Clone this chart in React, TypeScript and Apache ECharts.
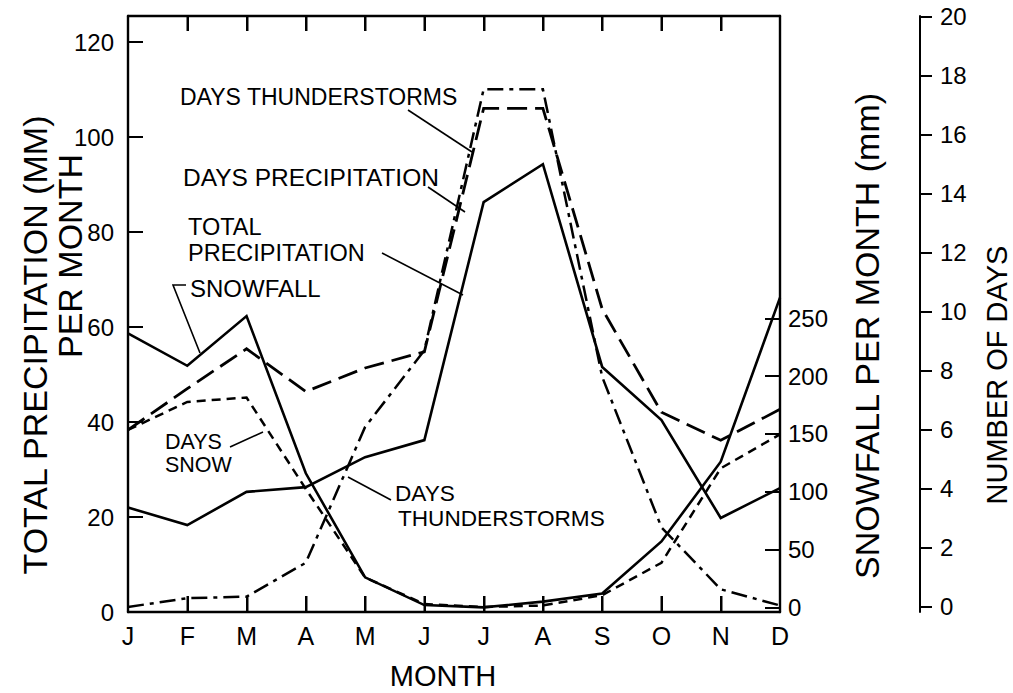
import React, { useEffect, useRef } from "react";
import * as echarts from "echarts";

// ---- data ----
const months = ["Jan", "Feb", "Mar", "Apr", "May", "Jun", "Jul", "Aug", "Sep", "Oct", "Nov", "Dec"];
const totalPrecipitation = [22, 18.3, 25.3, 26.3, 32.6, 36.2, 86.3, 94.3, 51.6, 40.4, 19.8, 26.1]; // mm, left axis
const snowfall = [237, 209, 252, 116, 26, 2, 0, 5, 12, 57, 126, 268]; // mm, inner right axis
const daysPrecipitation = [6.0, 7.4, 8.75, 7.3, 8.1, 8.65, 16.9, 16.9, 10.1, 6.6, 5.65, 6.7]; // days
const daysSnow = [6.0, 6.95, 7.1, 4.0, 1.0, 0.1, 0, 0.05, 0.4, 1.5, 4.7, 5.85]; // days
const daysThunderstorms = [0, 0.3, 0.35, 1.5, 6.1, 8.7, 17.55, 17.55, 7.8, 2.7, 0.6, 0.05]; // days

const precipTicks = [0, 20, 40, 60, 80, 100, 120];
const snowTicks = [0, 50, 100, 150, 200, 250];
const dayTicks = [0, 2, 4, 6, 8, 10, 12, 14, 16, 18, 20];

const FONT = '"Liberation Sans", "DejaVu Sans", Arial, sans-serif';
const INK = "#000";
const W = 1013;
const H = 693;
const GRID = { left: 128, right: 233, top: 16, bottom: 81 };

function txt(text: string, x: number, y: number, size: number, rotate = false, align = "left") {
  return {
    type: "text",
    x,
    y,
    rotation: rotate ? Math.PI / 2 : 0,
    silent: true,
    style: {
      text,
      fontSize: size,
      fontFamily: FONT,
      fill: INK,
      align,
      verticalAlign: "middle",
    },
  };
}

function seg(x1: number, y1: number, x2: number, y2: number, w = 1.6) {
  return {
    type: "line",
    silent: true,
    z: 50,
    shape: { x1, y1, x2, y2 },
    style: { stroke: INK, lineWidth: w },
  };
}

const axisLineStyle = () => ({ color: INK, width: 2.4 });
const tickStyle = () => ({ color: INK, width: 2 });
const labelBase = () => ({ color: INK, fontFamily: FONT, fontSize: 24 });

export default function App() {
  const ref = useRef<HTMLDivElement>(null);

  useEffect(() => {
    if (!ref.current) return;
    const chart = echarts.init(ref.current, undefined, { renderer: "svg" });

    const lineSeries = (name: string, data: number[], yAxisIndex: number, type: any, width = 2.5) => ({
      name,
      type: "line",
      data,
      yAxisIndex,
      xAxisIndex: 0,
      symbol: "none",
      clip: false,
      lineStyle: { color: INK, width, type, cap: "butt", join: "miter" },
      emphasis: { disabled: true },
    });

    // month tick marks along the bottom and top frame (one per category step of the grid)
    const plotW = W - GRID.left - GRID.right;
    const yBottom = H - GRID.bottom;
    const yTop = GRID.top;
    const step = plotW / (months.length - 1);
    const monthTicks: any[] = [];
    for (let i = 1; i < months.length - 1; i++) {
      const x = Math.round(GRID.left + i * step) + 0.5;
      monthTicks.push(seg(x, yBottom, x, yBottom - 16, 2));
      monthTicks.push(seg(x, yTop, x, yTop + 15, 2));
    }

    chart.setOption({
      animation: false,
      grid: { ...GRID },
      xAxis: [
        {
          type: "category",
          data: months,
          boundaryGap: false,
          position: "bottom",
          axisLine: { show: true, onZero: false, lineStyle: axisLineStyle() },
          axisTick: { show: true, inside: true, length: 16, interval: 0, lineStyle: tickStyle() },
          axisLabel: {
            ...labelBase(),
            fontSize: 25,
            margin: 11,
            interval: 0,
            formatter: (v: string) => v.charAt(0),
          },
          splitLine: { show: false },
        },
        {
          type: "category",
          data: months,
          boundaryGap: false,
          position: "top",
          axisLine: { show: true, onZero: false, lineStyle: axisLineStyle() },
          axisTick: { show: true, inside: true, length: 15, interval: 0, lineStyle: tickStyle() },
          axisLabel: { show: false },
          splitLine: { show: false },
        },
      ],
      yAxis: [
        {
          type: "value",
          position: "left",
          min: 0,
          max: 125.5,
          axisLine: { show: true, onZero: false, lineStyle: axisLineStyle() },
          axisTick: { show: true, inside: true, length: 15, lineStyle: tickStyle(), customValues: precipTicks },
          axisLabel: { ...labelBase(), margin: 14, customValues: precipTicks },
          splitLine: { show: false },
        },
        {
          type: "value",
          position: "right",
          offset: 0,
          min: -4,
          max: 511.6,
          axisLine: { show: true, onZero: false, lineStyle: axisLineStyle() },
          axisTick: { show: true, inside: true, length: 15, lineStyle: tickStyle(), customValues: snowTicks },
          axisLabel: { ...labelBase(), margin: 8, customValues: snowTicks },
          splitLine: { show: false },
        },
        {
          type: "value",
          position: "right",
          offset: 140,
          min: -0.17,
          max: 20.03,
          axisLine: { show: true, onZero: false, lineStyle: { color: INK, width: 2 } },
          axisTick: { show: true, inside: false, length: 12, lineStyle: tickStyle(), customValues: dayTicks },
          axisLabel: { ...labelBase(), margin: 20, customValues: dayTicks },
          splitLine: { show: false },
        },
      ],
      series: [
        lineSeries("Total precipitation", totalPrecipitation, 0, "solid", 2.6),
        lineSeries("Snowfall", snowfall, 1, "solid", 2.6),
        lineSeries("Days precipitation", daysPrecipitation, 2, [20, 8], 2.8),
        lineSeries("Days snow", daysSnow, 2, [9, 6], 2.5),
        lineSeries("Days thunderstorms", daysThunderstorms, 2, [16, 6, 4, 6], 2.5),
      ],
      graphic: [
        // axis titles
        txt("TOTAL PRECIPITATION (MM)", 35, 345, 34, true, "center"),
        txt("PER MONTH", 70, 256, 34, true, "center"),
        txt("SNOWFALL PER MONTH (mm)", 867, 336, 34, true, "center"),
        txt("NUMBER OF DAYS", 997, 375, 29, true, "center"),
        txt("MONTH", 443, 676, 29, false, "center"),
        // in-plot annotations
        txt("DAYS THUNDERSTORMS", 180, 97, 23),
        seg(408, 110, 472, 152),
        txt("DAYS PRECIPITATION", 183, 177, 24.5),
        seg(428, 187, 465, 212),
        txt("TOTAL", 188, 227, 23.5),
        txt("PRECIPITATION", 188, 253, 23.5),
        seg(382, 253, 463, 295),
        txt("SNOWFALL", 190, 288, 24),
        {
          type: "polyline",
          silent: true,
          shape: { points: [[186, 285], [173, 285], [200, 353]] },
          style: { stroke: INK, lineWidth: 1.6, fill: null },
        },
        txt("DAYS", 165, 442, 21.5),
        txt("SNOW", 165, 465, 21.5),
        seg(230, 447, 263, 432),
        txt("DAYS", 395, 493, 22.6),
        txt("THUNDERSTORMS", 398, 518, 22.6),
        seg(391, 500, 348, 477),
        ...monthTicks,
      ],
    });

    return () => chart.dispose();
  }, []);

  return (
    <div
      ref={ref}
      style={{ position: "fixed", left: 0, top: 0, width: W, height: H, background: "#fff" }}
    />
  );
}
